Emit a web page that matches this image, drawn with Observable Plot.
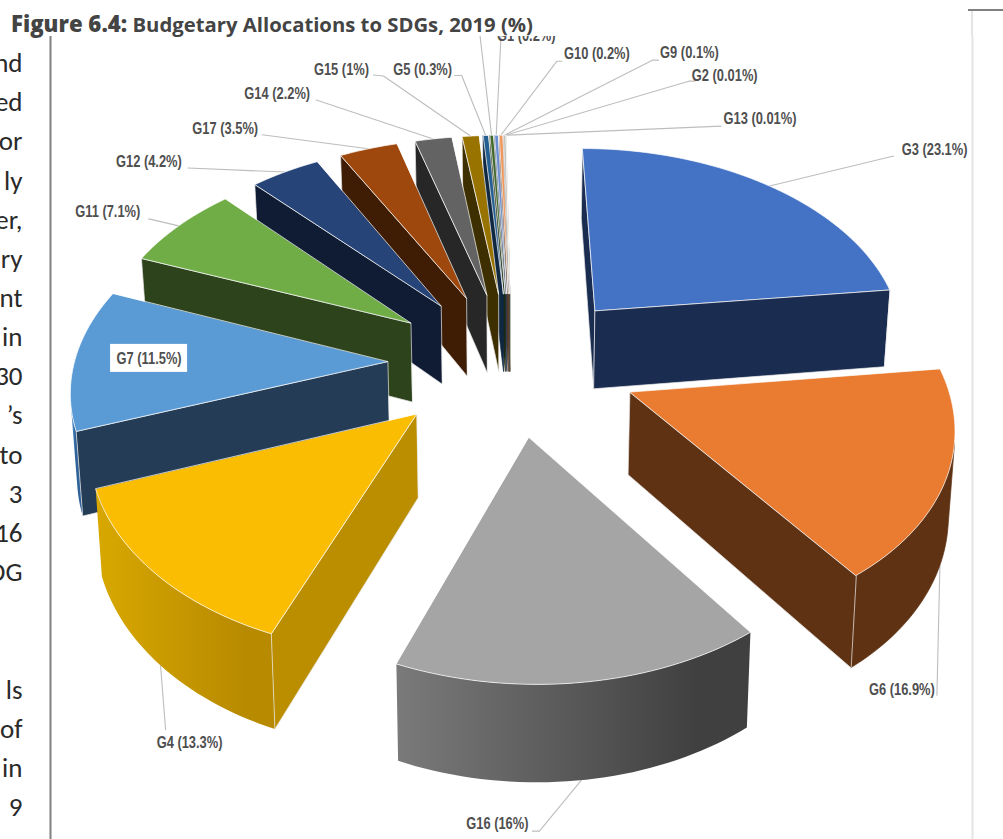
<!DOCTYPE html>
<html><head><meta charset="utf-8">
<style>
html,body{margin:0;padding:0;background:#fff;overflow:hidden}
#title{position:relative;z-index:2;height:36px;font-family:"Open Sans",sans-serif;font-weight:700;color:#444;white-space:nowrap}
#title .t{position:absolute;left:11px;top:9px;line-height:30px;font-size:20.3px}
#title .t b{font-size:22.2px}
#title .rh{position:absolute;left:968px;top:9px;width:35px;height:2px;background:#808080}
#title .rv{position:absolute;left:971px;top:11px;width:2px;height:25px;background:#e4e4e4}
svg{display:block}
</style>
<script src="https://cdn.jsdelivr.net/npm/d3@7"></script>
<script src="https://cdn.jsdelivr.net/npm/@observablehq/plot@0.6"></script>
</head><body>
<div id="title"><div class="t"><b>Figure 6.4:</b> Budgetary Allocations to SDGs, 2019 (%)</div><div class="rh"></div><div class="rv"></div></div>
<div id="chart"></div>
<script>
// ---- data (clockwise from 12 o'clock) ----
const goals  = ["G3","G6","G16","G4","G7","G11","G12","G17","G14","G15","G5","G8","G1","G10","G9","G2","G13"];
const shares = [23.1,16.9,16,13.3,11.5,7.1,4.2,3.5,2.2,1,0.3,0.2,0.2,0.2,0.1,0.01,0.01];
const labels = ["G3 (23.1%)","G6 (16.9%)","G16 (16%)","G4 (13.3%)","G7 (11.5%)","G11 (7.1%)","G12 (4.2%)","G17 (3.5%)","G14 (2.2%)","G15 (1%)","G5 (0.3%)",null,"G1 (0.2%)","G10 (0.2%)","G9 (0.1%)","G2 (0.01%)","G13 (0.01%)"];
const marginText = ["nd","ed","or","ly","er,","ry","nt","in","30","’s","to","3","16","DG","","","ls","of","in","9"];

// ---- styling ----
const topColors  = ["#4472c4","#ea7c32","#a5a5a5","#fbbd02","#5b9bd5","#70ad47","#264478","#9e480e","#636363","#997300","#255e91","#43682b","#698ed0","#f1975a","#b7b7b7","#ffcd33","#7cafdd"];
const sideColors = ["#1a2c50","#5f3214","#404040","#bb8e00","#243c55","#2d431c","#0f1c34","#3f1d05","#272727","#3e2f00","#0f2740","#1b2a11","#2a3a55","#60391f","#494949","#66520f","#32465a"];
// wall gradients, left colour then right colour
const arcRamp = {G4:["#d8a800","#b88a00"],G16:["#7a7a7a","#404040"],G7:["#5b9bd5","#2f6299"]};
// slices dragged by hand in the original have their own extra pull (screen px)
const pull = {G3:5,G6:2,G4:-4};

// ---- 3D pie projection (perspective view of the plan X,Y) ----
const explodeX=0.39, explodeY=0.37, radiusX=0.985, persp=0.1265, depth=81, converge=0.985, cx=511;
const w=Y=>1+persp*Y;
const sx=(X,Y)=>(cx+318*X+60*Y)/w(Y);
const sy=(X,Y)=>(362-148.9*Y)/w(Y);
const rad=d=>d*Math.PI/180;
const total=d3.sum(shares);
let acc=0;
const slices=goals.map((g,i)=>{
  const a0=acc/total*360; acc+=shares[i]; const a1=acc/total*360; const m=(a0+a1)/2;
  const ax=explodeX*Math.sin(rad(m)), ay=explodeY*Math.cos(rad(m));
  const plan=a=>[ax+radiusX*Math.sin(rad(a)),ay+Math.cos(rad(a))];
  const nudge=pull[g]||0;
  const top=([X,Y])=>{
    const x=sx(X,Y)+nudge,y=sy(X,Y);
    return {x,y,b:{x:cx+(x-cx)*converge,y:y+depth/w(Y)}};
  };
  const n=Math.max(1,Math.ceil((a1-a0)/1.5));
  const rim=d3.range(n+1).map(k=>top(plan(a0+(a1-a0)*k/n)));
  const [mX,mY]=plan(m);
  return {g,i,a0,a1,m,apex:top([ax,ay]),apexY:ay,rim,mid:top([mX,mY])};
});
const front=(p,q)=>{ // shoelace of the side quad: <0 means it faces the viewer
  const r=[p,q,q.b,p.b]; let s=0;
  r.forEach((u,k)=>{const v=r[(k+1)%4]; s+=u.x*v.y-v.x*u.y;});
  return s<0;
};
const faces=[];
const gradients=[];
let fid=0;
const addFace=(pts,fill,stroke)=>{const z=fid++;pts.forEach(p=>faces.push({x:p.x,y:p.y,z,fill,stroke}));};
[...slices].sort((a,b)=>b.apexY-a.apexY).forEach(s=>{
  const top=topColors[s.i], side=sideColors[s.i], ramp=arcRamp[s.g];
  // outer wall: one polygon for the part of the rim that faces the viewer
  let run=[];
  const flush=()=>{
    if(run.length>1){
      let fill=side,stroke=side;
      if(ramp){
        const id="wall-"+s.g, xs=run.map(p=>p.x);
        gradients.push({id,x1:d3.min(xs),x2:d3.max(xs),ramp});
        fill="url(#"+id+")"; stroke="none";
      }
      addFace([...run,...run.map(p=>p.b).reverse()],fill,stroke);
    }
    run=[];
  };
  for(let k=0;k<s.rim.length-1;k++){
    const p=s.rim[k],q=s.rim[k+1];
    if(front(p,q)){ if(!run.length) run.push(p); run.push(q); }
    else flush();
  }
  flush();
  // radial walls
  const thin=s.a1-s.a0<3;
  const first=s.rim[0],last=s.rim[s.rim.length-1];
  [[s.apex,first],[last,s.apex]].forEach(([p,q])=>{
    if(front(p,q)) addFace([p,q,q.b,p.b],side,thin?side:"#e8e8e8");
  });
  // top
  addFace([s.apex,...s.rim],top,"#ffffff");
});

// ---- label placement: offsets from each slice's rim anchor (layout only) ----
const placement={
 G3:{leader:[[124,-30]],text:[165,-36]},
 G6:{base:true,leader:[[-3,130]],text:[-38,124]},
 G16:{base:true,leader:[[-42,51],[-49,51]],text:[-84,44]},
 G4:{base:true,leader:[[5,64]],text:[29,77]},
 G7:{leader:[],text:[74,-1],box:[-38.5,38.5,-14,14]},
 G11:{leader:[[-30,-7]],text:[-71,-14]},
 G12:{leader:[[-97,-4]],text:[-136,-10]},
 G17:{leader:[[-106,-14]],text:[-143,-20]},
 G14:{leader:[[-117,-39]],text:[-156,-45]},
 G15:{leader:[[-87,-60],[-97,-61]],text:[-129,-66]},
 G5:{leader:[[-24,-60],[-31,-60]],text:[-63,-66]},
 G8:{leader:[[-12,-104]]},
 G1:{leader:[[5,-104]],text:[30,-100]},
 G10:{leader:[[56,-74],[61,-74]],text:[96,-81]},
 G9:{leader:[[148,-75],[154,-75]],text:[185,-82]},
 G2:{leader:[[183,-54],[189,-54]],text:[219,-59]},
 G13:{leader:[[215,-9]],text:[254,-16]}
};
const anchors=slices.map(s=>{const p=placement[s.g];return {s,p,a:p.base?s.mid.b:s.mid};});
const leaderPts=anchors.flatMap(({s,p,a})=>[{x:a.x,y:a.y,z:s.g},...p.leader.map(([dx,dy])=>({x:a.x+dx,y:a.y+dy,z:s.g}))]);
const labelPts=anchors.filter(d=>d.p.text&&labels[d.s.i]).map(({s,p,a})=>({x:a.x+p.text[0],y:a.y+p.text[1],t:labels[s.i]}));
const boxes=anchors.filter(d=>d.p.box).map(({p,a})=>({x1:a.x+p.text[0]+p.box[0],x2:a.x+p.text[0]+p.box[1],y1:a.y+p.text[1]+p.box[2],y2:a.y+p.text[1]+p.box[3]}));
const marginPts=marginText.map((t,i)=>({t,y:63+i*39.15,x:22})).filter(d=>d.t);

const gradientDefs=()=>{
  const defs=d3.create("svg:defs");
  gradients.forEach(g=>{
    const lg=defs.append("linearGradient").attr("id",g.id).attr("gradientUnits","userSpaceOnUse")
      .attr("x1",g.x1).attr("x2",g.x2).attr("y1",0).attr("y2",0);
    lg.append("stop").attr("offset","0%").attr("stop-color",g.ramp[0]);
    lg.append("stop").attr("offset","85%").attr("stop-color",g.ramp[1]);
  });
  return defs.node();
};

const chart=Plot.plot({
  width:1003,height:803,margin:0,
  x:{domain:[0,1003],range:[0,1003],axis:null},
  y:{domain:[36,839],range:[0,803],axis:null},
  color:{type:"identity"},
  marks:[
    gradientDefs,
    Plot.ruleX([50],{y1:36,y2:839,stroke:"#808080",strokeWidth:2}),
    Plot.ruleX([972],{y1:36,y2:839,stroke:"#e4e4e4",strokeWidth:2}),
    Plot.text(marginPts,{x:"x",y:"y",text:"t",textAnchor:"end",fontSize:27,fontWeight:300,fontFamily:"Carlito, Lato, sans-serif",fill:"#2a2a2a"}),
    Plot.line(leaderPts,{x:"x",y:"y",z:"z",stroke:"#bdbdbd",strokeWidth:1.1}),
    Plot.line(faces,{x:"x",y:"y",z:"z",fill:"fill",stroke:"stroke",strokeWidth:.7,curve:"linear-closed"}),
    Plot.rect(boxes,{x1:"x1",x2:"x2",y1:"y1",y2:"y2",fill:"white"}),
    Plot.text(labelPts,{x:"x",y:"y",text:"t",fontSize:16.5,fontWeight:700,fontFamily:"'Liberation Sans',sans-serif",fill:"#4f4f4f",className:"lbl"})
  ]
});
document.getElementById("chart").appendChild(chart);
// the reference's data labels are set in a condensed face: squeeze the glyphs to that width
chart.querySelectorAll("g.lbl text").forEach(t=>{
  const len=t.getComputedTextLength();
  t.setAttribute("textLength",(len*0.78).toFixed(1));
  t.setAttribute("lengthAdjust","spacingAndGlyphs");
});
</script>
</body></html>
